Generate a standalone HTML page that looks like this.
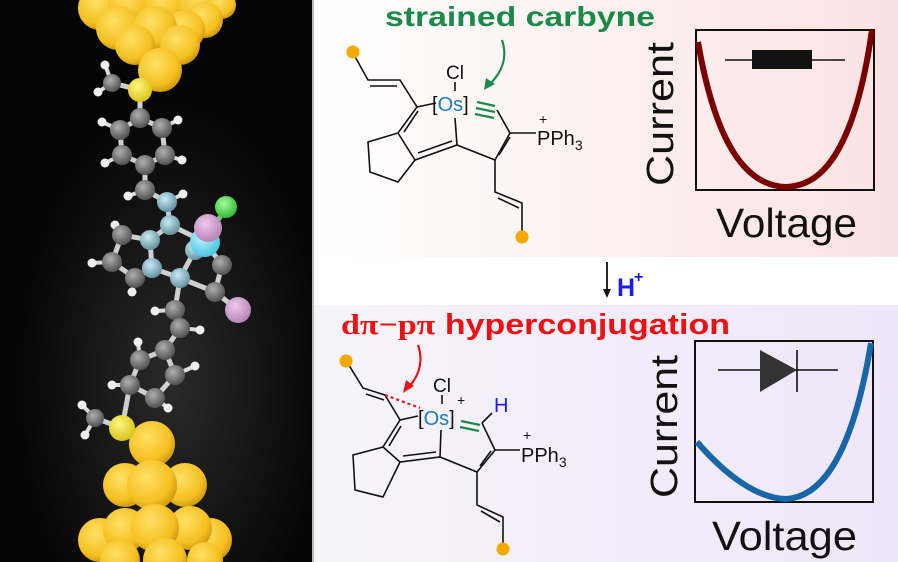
<!DOCTYPE html>
<html><head><meta charset="utf-8"><style>
html,body{margin:0;padding:0;background:#fff}
svg{display:block}
text{font-family:"Liberation Sans",sans-serif}
</style></head><body>
<svg width="898" height="562" viewBox="0 0 898 562" xmlns="http://www.w3.org/2000/svg">
<defs>
<linearGradient id="gt" x1="0" x2="1" y1="0" y2="0"><stop offset="0" stop-color="#ffffff"/><stop offset="1" stop-color="#fbe2e2"/></linearGradient>
<linearGradient id="gb" x1="0" x2="1" y1="0" y2="0"><stop offset="0" stop-color="#f6f4fb"/><stop offset="1" stop-color="#efe6f9"/></linearGradient>
<radialGradient id="glow" cx="0.55" cy="0.68" r="0.5"><stop offset="0" stop-color="#2a2a2a"/><stop offset="1" stop-color="#050505"/></radialGradient>
<radialGradient id="au" cx="0.4" cy="0.35" r="0.7"><stop offset="0" stop-color="#ffe066"/><stop offset="0.7" stop-color="#f5c020"/><stop offset="1" stop-color="#c89010"/></radialGradient>
<radialGradient id="c" cx="0.4" cy="0.35" r="0.7"><stop offset="0" stop-color="#b0b0b0"/><stop offset="1" stop-color="#4a4a4a"/></radialGradient>
<radialGradient id="cb" cx="0.4" cy="0.35" r="0.7"><stop offset="0" stop-color="#c8ecf6"/><stop offset="1" stop-color="#5e8a98"/></radialGradient>
<radialGradient id="s" cx="0.4" cy="0.35" r="0.7"><stop offset="0" stop-color="#fff680"/><stop offset="1" stop-color="#d8c010"/></radialGradient>
<radialGradient id="os" cx="0.4" cy="0.35" r="0.7"><stop offset="0" stop-color="#bff4ff"/><stop offset="1" stop-color="#40c0e0"/></radialGradient>
<radialGradient id="p" cx="0.4" cy="0.35" r="0.7"><stop offset="0" stop-color="#f0c8ec"/><stop offset="1" stop-color="#b080b0"/></radialGradient>
<radialGradient id="cl" cx="0.4" cy="0.35" r="0.7"><stop offset="0" stop-color="#a0ff9c"/><stop offset="1" stop-color="#30b030"/></radialGradient>
</defs>

<rect x="0" y="0" width="898" height="562" fill="#fff"/>
<rect x="312" y="0" width="586" height="257" fill="url(#gt)"/>
<rect x="312" y="305" width="586" height="257" fill="url(#gb)"/>
<rect x="0" y="0" width="312" height="562" fill="url(#glow)"/>
<rect x="312" y="0" width="2" height="562" fill="#bbb"/>

<g stroke="#cfcfcf" stroke-width="5" fill="none">
<polyline points="112,83 140,90 140,118 120,130 122,155 145,165 165,155 162,128 140,118"/>
<polyline points="145,165 145,190 167,202 170,225 150,240 152,268 180,278 195,250 205,242 170,225"/>
<polyline points="150,240 122,235 112,262 135,278 152,268"/>
<polyline points="205,242 222,265 215,292 180,278"/>
<polyline points="215,292 238,310"/>
<polyline points="180,278 175,310 180,328 165,350 140,360 130,385 155,398 175,375 165,350"/>
<polyline points="130,385 122,428 95,418"/>
<line x1="205" y1="242" x2="226" y2="207" stroke="#6c6"/>
</g>
<g stroke="#ddd" stroke-width="4">
<line x1="112" y1="83" x2="105" y2="65"/><line x1="112" y1="83" x2="98" y2="92"/>
<line x1="120" y1="130" x2="102" y2="122"/><line x1="162" y1="128" x2="178" y2="120"/>
<line x1="122" y1="155" x2="105" y2="163"/><line x1="165" y1="155" x2="182" y2="160"/>
<line x1="145" y1="190" x2="128" y2="196"/><line x1="167" y1="202" x2="183" y2="194"/>
<line x1="122" y1="235" x2="115" y2="225"/><line x1="112" y1="262" x2="92" y2="263"/>
<line x1="135" y1="278" x2="132" y2="292"/>
<line x1="175" y1="310" x2="155" y2="311"/><line x1="180" y1="328" x2="200" y2="330"/>
<line x1="140" y1="360" x2="138" y2="342"/><line x1="175" y1="375" x2="195" y2="366"/>
<line x1="130" y1="385" x2="112" y2="385"/><line x1="155" y1="398" x2="168" y2="408"/>
<line x1="95" y1="418" x2="82" y2="405"/><line x1="95" y1="418" x2="85" y2="435"/>
</g>
<g fill="url(#au)">
<circle cx="100" cy="8" r="22"/><circle cx="130" cy="3" r="22"/><circle cx="165" cy="5" r="20"/><circle cx="200" cy="2" r="22"/><circle cx="222" cy="5" r="14"/>
<circle cx="118" cy="28" r="22"/><circle cx="205" cy="20" r="18"/><circle cx="185" cy="30" r="20"/><circle cx="155" cy="28" r="22"/>
<circle cx="135" cy="45" r="20"/><circle cx="180" cy="45" r="20"/><circle cx="160" cy="70" r="22"/>
</g>
<g fill="url(#au)">
<circle cx="100" cy="540" r="22"/><circle cx="210" cy="540" r="22"/>
<circle cx="125" cy="485" r="22"/><circle cx="185" cy="485" r="22"/>
<circle cx="125" cy="530" r="22"/><circle cx="190" cy="528" r="22"/>
<circle cx="152" cy="444" r="23"/><circle cx="152" cy="485" r="25"/>
<circle cx="155" cy="528" r="24"/><circle cx="120" cy="560" r="20"/><circle cx="165" cy="560" r="22"/><circle cx="205" cy="560" r="18"/>
</g>
<g fill="#eee"><circle cx="105" cy="65" r="4.5"/><circle cx="98" cy="92" r="4.5"/><circle cx="102" cy="122" r="4.5"/><circle cx="178" cy="120" r="4.5"/><circle cx="105" cy="163" r="4.5"/><circle cx="182" cy="160" r="4.5"/><circle cx="128" cy="196" r="4.5"/><circle cx="183" cy="194" r="4.5"/><circle cx="115" cy="225" r="4.5"/><circle cx="92" cy="263" r="4.5"/><circle cx="132" cy="292" r="4.5"/><circle cx="155" cy="311" r="4.5"/><circle cx="200" cy="330" r="4.5"/><circle cx="138" cy="342" r="4.5"/><circle cx="195" cy="366" r="4.5"/><circle cx="112" cy="385" r="4.5"/><circle cx="168" cy="408" r="4.5"/><circle cx="82" cy="405" r="4.5"/><circle cx="85" cy="435" r="4.5"/></g>
<g fill="url(#c)">
<circle cx="112" cy="83" r="9"/><circle cx="140" cy="118" r="10"/><circle cx="120" cy="130" r="10"/><circle cx="162" cy="128" r="10"/><circle cx="122" cy="155" r="10"/><circle cx="165" cy="155" r="10"/><circle cx="145" cy="165" r="10"/>
<circle cx="145" cy="190" r="10"/><circle cx="122" cy="235" r="10"/><circle cx="112" cy="262" r="10"/><circle cx="135" cy="278" r="10"/>
<circle cx="222" cy="265" r="10"/><circle cx="215" cy="292" r="10"/><circle cx="175" cy="310" r="10"/><circle cx="180" cy="328" r="10"/>
<circle cx="165" cy="350" r="10"/><circle cx="140" cy="360" r="10"/><circle cx="130" cy="385" r="10"/><circle cx="155" cy="398" r="10"/><circle cx="175" cy="375" r="10"/><circle cx="95" cy="418" r="9"/>
</g>
<g fill="url(#cb)"><circle cx="167" cy="202" r="10"/><circle cx="170" cy="225" r="10"/><circle cx="150" cy="240" r="10"/><circle cx="152" cy="268" r="10"/><circle cx="180" cy="278" r="10"/><circle cx="195" cy="250" r="10"/></g>
<circle cx="205" cy="242" r="15" fill="url(#os)"/>
<circle cx="226" cy="207" r="11" fill="url(#cl)"/>
<circle cx="208" cy="228" r="14" fill="url(#p)"/>
<circle cx="238" cy="310" r="13" fill="url(#p)"/>
<circle cx="140" cy="90" r="12" fill="url(#s)"/>
<circle cx="122" cy="428" r="13" fill="url(#s)"/>

<!-- top chemistry -->
<text x="385" y="26" font-size="28" font-weight="bold" fill="#1a8a48" textLength="270" lengthAdjust="spacingAndGlyphs">strained carbyne</text>
<path d="M502,40 C508,58 502,72 490,84" fill="none" stroke="#1a8a48" stroke-width="2.2"/>
<path d="M484,90 L486,78 L495,84 Z" fill="#1a8a48"/>
<g stroke="#111" stroke-width="1.6" fill="none">
<polyline points="353,53 368,80 400,80 417,107 398,133 415,160 457,145 495,160 510,133 497,110"/>
<line x1="370" y1="86" x2="397" y2="86"/>
<line x1="404" y1="132" x2="418" y2="111"/>
<line x1="418" y1="153" x2="452" y2="141"/>
<line x1="499" y1="155" x2="510" y2="137"/>
<polyline points="398,133 368,142 370,172 398,182 415,160"/>
<line x1="417" y1="107" x2="436" y2="103"/>
<line x1="455" y1="118" x2="457" y2="145"/>
<line x1="455" y1="82" x2="455" y2="91"/>
<line x1="510" y1="133" x2="536" y2="133"/>
<polyline points="495,160 495,192 522,203 522,235"/>
<line x1="498" y1="198" x2="519" y2="208"/>
</g>
<g stroke="#1a8a48" stroke-width="2.2"><line x1="477" y1="102" x2="495" y2="106"/><line x1="476" y1="108" x2="495" y2="112"/><line x1="475" y1="114" x2="494" y2="118"/></g>
<circle cx="353" cy="52" r="6.5" fill="#f5a800"/>
<circle cx="522" cy="237" r="6.5" fill="#f5a800"/>
<text x="446" y="79" font-size="19" fill="#111">Cl</text>
<text x="432" y="111" font-size="20" fill="#111">[<tspan fill="#1a7ac0">Os</tspan>]</text>
<text x="537" y="145" font-size="20" fill="#111">PPh<tspan font-size="14" dy="5">3</tspan></text>
<text x="539" y="124" font-size="14" fill="#111">+</text>

<!-- top plot -->
<rect x="696" y="30" width="178" height="160" fill="none" stroke="#111" stroke-width="2"/>
<path d="M698,42 C720,170 760,186 786,187 C812,186 852,170 872,30" fill="none" stroke="#7a0000" stroke-width="6"/>
<line x1="725" y1="60" x2="845" y2="60" stroke="#111" stroke-width="1.6"/>
<rect x="752" y="50" width="60" height="19" fill="#111"/>
<text transform="translate(673,186) rotate(-90)" font-size="38" fill="#111" textLength="144" lengthAdjust="spacingAndGlyphs">Current</text>
<text x="716" y="237" font-size="41" fill="#111" textLength="141" lengthAdjust="spacingAndGlyphs">Voltage</text>

<!-- H+ -->
<line x1="607" y1="262" x2="607" y2="294" stroke="#111" stroke-width="1.8"/>
<path d="M603,289 L611,289 L607,298 Z" fill="#111"/>
<text x="617" y="296" font-size="25" font-weight="bold" fill="#1a1aff">H</text>
<text x="634" y="282" font-size="16" font-weight="bold" fill="#1a1aff">+</text>

<!-- bottom chemistry -->
<text x="341" y="334" font-size="29" font-weight="bold" fill="#ee1111" textLength="389" lengthAdjust="spacingAndGlyphs"><tspan font-family="Liberation Serif,serif">dπ−pπ</tspan> hyperconjugation</text>
<path d="M418,345 C424,362 418,376 410,386" fill="none" stroke="#ee1111" stroke-width="2.2"/>
<path d="M403,393 L406,380 L414,386 Z" fill="#ee1111"/>
<g stroke="#111" stroke-width="1.6" fill="none">
<polyline points="347,362 363,388 385,395 400,420 383,447 400,462 440,457 477,472 495,450 482,423"/>
<line x1="366" y1="394" x2="384" y2="400"/>
<line x1="389" y1="446" x2="401" y2="426"/>
<line x1="403" y1="456" x2="436" y2="452"/>
<line x1="480" y1="466" x2="491" y2="451"/>
<polyline points="383,447 353,455 355,490 383,497 400,462"/>
<line x1="400" y1="420" x2="418" y2="416"/>
<line x1="441" y1="430" x2="440" y2="457"/>
<line x1="442" y1="395" x2="442" y2="404"/>
<line x1="495" y1="450" x2="520" y2="450"/>
<polyline points="477,472 477,505 503,517 503,545"/>
<line x1="481" y1="511" x2="500" y2="522"/>
<line x1="482" y1="423" x2="492" y2="413"/>
</g>
<line x1="385" y1="395" x2="420" y2="408" stroke="#ee1111" stroke-width="2.2" stroke-dasharray="3,3"/>
<g stroke="#1a8a48" stroke-width="2.2"><line x1="461" y1="421" x2="480" y2="425"/><line x1="460" y1="427" x2="479" y2="431"/></g>
<circle cx="346" cy="361" r="6.5" fill="#f5a800"/>
<circle cx="503" cy="549" r="6.5" fill="#f5a800"/>
<text x="433" y="392" font-size="19" fill="#111">Cl</text>
<text x="457" y="405" font-size="14" fill="#111">+</text>
<text x="418" y="425" font-size="20" fill="#111">[<tspan fill="#1a7ac0">Os</tspan>]</text>
<text x="494" y="412" font-size="20" fill="#1a1aff">H</text>
<text x="521" y="462" font-size="20" fill="#111">PPh<tspan font-size="14" dy="5">3</tspan></text>
<text x="523" y="440" font-size="14" fill="#111">+</text>

<!-- bottom plot -->
<rect x="695" y="341" width="178" height="161" fill="none" stroke="#111" stroke-width="2"/>
<path d="M697,442 C730,480 760,498 785,499 C815,498 850,470 871,343" fill="none" stroke="#1666a8" stroke-width="6"/>
<line x1="718" y1="370" x2="838" y2="370" stroke="#111" stroke-width="1.6"/>
<path d="M760,350 L797,370 L760,392 Z" fill="#333"/>
<line x1="797" y1="350" x2="797" y2="392" stroke="#111" stroke-width="1.6"/>
<text transform="translate(677,498) rotate(-90)" font-size="38" fill="#111" textLength="143" lengthAdjust="spacingAndGlyphs">Current</text>
<text x="712" y="550" font-size="41" fill="#111" textLength="145" lengthAdjust="spacingAndGlyphs">Voltage</text>
</svg>
</body></html>
